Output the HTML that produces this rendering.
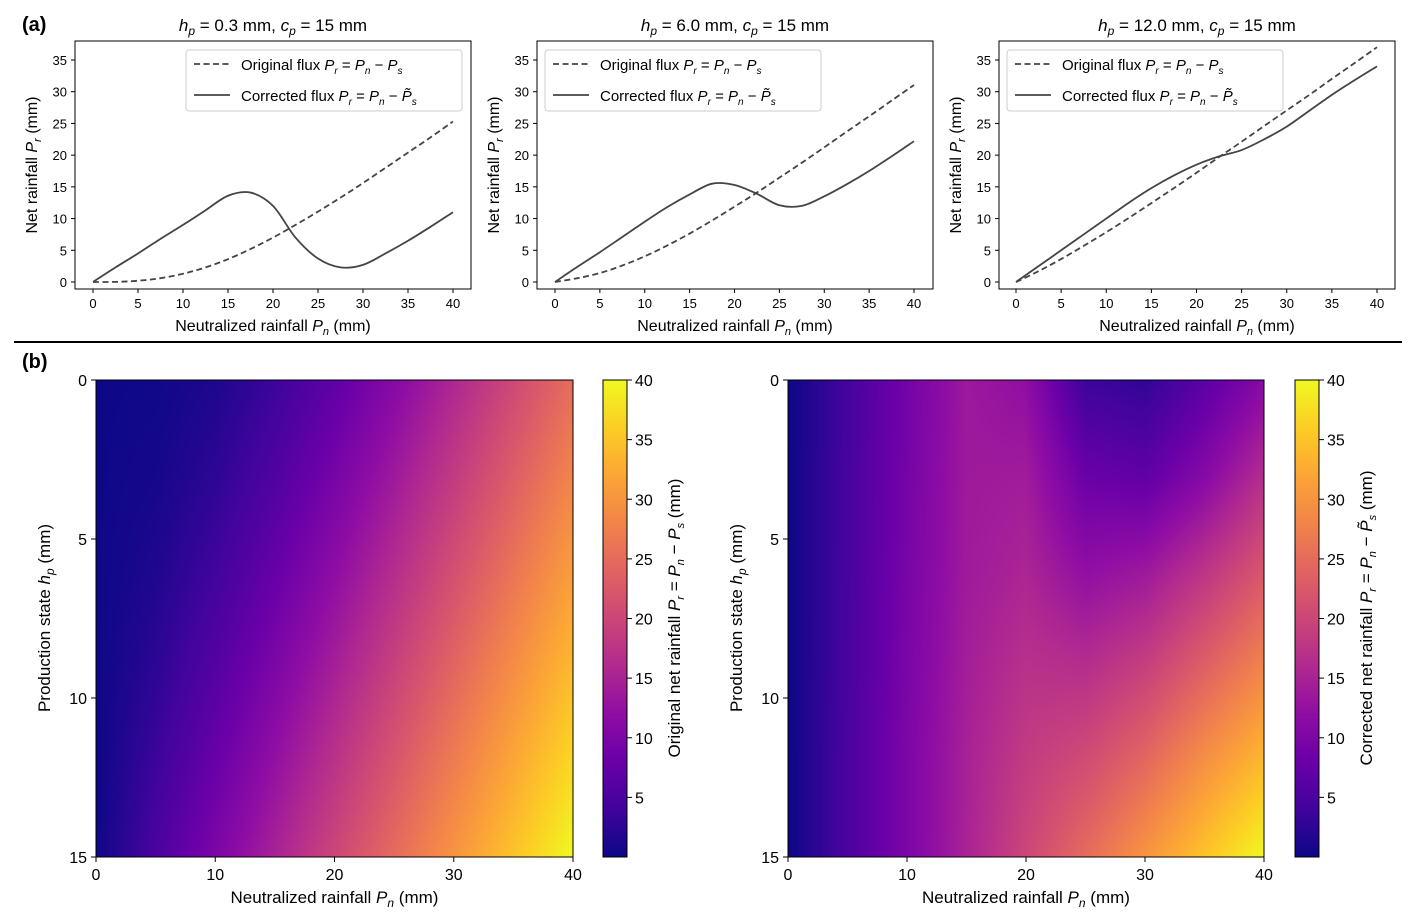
<!DOCTYPE html>
<html><head><meta charset="utf-8">
<style>
body{margin:0;background:#fff;width:1417px;height:920px;overflow:hidden;font-family:"Liberation Sans","DejaVu Sans",sans-serif;}
svg{position:absolute;left:0;top:0}
canvas{position:absolute}
</style></head>
<body>
<canvas id="hm1" width="477" height="477" style="left:96px;top:380px"></canvas>
<canvas id="hm2" width="476" height="477" style="left:788px;top:380px"></canvas>
<canvas id="cb1" width="24" height="477" style="left:603px;top:380px"></canvas>
<canvas id="cb2" width="24" height="477" style="left:1295px;top:380px"></canvas>
<svg id="s" width="1417" height="920" xmlns="http://www.w3.org/2000/svg" font-family="Liberation Sans, DejaVu Sans, sans-serif"></svg>
<script>
// ---------- data ----------
const pnGrid = [0,5,10,15,20,25,30,35,40];
const hpGrid = [0,3,6,9,12,15];
const originalGrid = [
 [0,0.18,1.26,3.58,6.95,11.03,15.54,20.28,25.14],
 [0,0.65,2.48,5.48,9.33,13.70,18.36,23.19,28.10],
 [0,1.41,4.05,7.64,11.87,16.45,21.23,26.12,31.06],
 [0,2.41,5.85,9.98,14.51,19.27,24.14,29.07,34.04],
 [0,3.62,7.85,12.44,17.23,22.12,27.06,32.03,37.02],
 [0,5,10,15,20,25,30,35,40]
];
const correctedGrid = [
 [0,4.5,9,13.6,12,3.7,2.7,6.5,11],
 [0,4.6,9.2,13.7,14,8,7,11,16.5],
 [0,4.7,9.5,13.8,15.3,12.1,13.5,17.5,22.2],
 [0,4.8,9.7,14.3,17,16.5,19,23.5,28],
 [0,5,10,14.8,18.5,20.8,24.5,29.5,34],
 [0,5,10,15,20,25,30,35,40]
];
const pnLine = [0,2.5,5,7.5,10,12.5,15,17.5,20,22.5,25,27.5,30,32.5,35,37.5,40];
const orig03 = [0,0.02,0.2,0.6,1.3,2.3,3.6,5.2,7.0,9.0,11.1,13.3,15.6,18.0,20.4,22.8,25.3];
const corr03 = [0,2.3,4.5,6.8,9,11.3,13.6,14.1,12,7,3.7,2.3,2.7,4.5,6.5,8.7,11];
const orig6 = [0,0.6,1.41,2.6,4.05,5.75,7.64,9.7,11.87,14.1,16.45,18.8,21.23,23.7,26.12,28.6,31.06];
const corr6 = [0,2.4,4.7,7.1,9.5,11.8,13.8,15.5,15.3,13.9,12.1,12.0,13.5,15.4,17.5,19.8,22.2];
const orig12 = [0,1.7,3.62,5.7,7.85,10.1,12.44,14.8,17.23,19.7,22.12,24.6,27.06,29.5,32.03,34.5,37.02];
const corr12 = [0,2.5,5,7.5,10,12.5,14.8,16.8,18.5,19.8,20.8,22.5,24.5,27,29.5,31.8,34];
const xTicks = [0,5,10,15,20,25,30,35,40];
const yTicks = [0,5,10,15,20,25,30,35];
const hmXTicks = [0,10,20,30,40];
const hmYTicks = [0,5,10,15];
const cbTicks = [5,10,15,20,25,30,35,40];
const titles = ["0.3","6.0","12.0"];

const plasma=["#0d0887","#41049d","#6a00a8","#8f0da4","#b12a90","#cc4778","#e16462","#f2844b","#fca636","#fcce25","#f0f921"].map(h=>[parseInt(h.substr(1,2),16),parseInt(h.substr(3,2),16),parseInt(h.substr(5,2),16)]);
function cmap(v){let t=Math.max(0,Math.min(1,v/40))*10;let i=Math.min(9,Math.floor(t));let f=t-i;let a=plasma[i],b=plasma[i+1];return [a[0]+(b[0]-a[0])*f,a[1]+(b[1]-a[1])*f,a[2]+(b[2]-a[2])*f];}
function interp(grid,pn,hp){
  let hi=Math.min(hpGrid.length-2,Math.max(0,hpGrid.findIndex((h,k)=>k<hpGrid.length-1&&hp<=hpGrid[k+1])));
  let pi=Math.min(pnGrid.length-2,Math.max(0,pnGrid.findIndex((p,k)=>k<pnGrid.length-1&&pn<=pnGrid[k+1])));
  let fy=(hp-hpGrid[hi])/(hpGrid[hi+1]-hpGrid[hi]),fx=(pn-pnGrid[pi])/(pnGrid[pi+1]-pnGrid[pi]);
  let a=grid[hi][pi],b=grid[hi][pi+1],c=grid[hi+1][pi],d=grid[hi+1][pi+1];
  return a*(1-fx)*(1-fy)+b*fx*(1-fy)+c*(1-fx)*fy+d*fx*fy;
}
function drawHM(id,grid){const cv=document.getElementById(id),ctx=cv.getContext('2d');const W=cv.width,H=cv.height;const im=ctx.createImageData(W,H);
 for(let y=0;y<H;y++)for(let x=0;x<W;x++){const c=cmap(interp(grid,(x+0.5)/W*40,(y+0.5)/H*15));const o=(y*W+x)*4;im.data[o]=c[0];im.data[o+1]=c[1];im.data[o+2]=c[2];im.data[o+3]=255;}
 ctx.putImageData(im,0,0);}
drawHM('hm1',originalGrid);drawHM('hm2',correctedGrid);
function drawCB(id){const cv=document.getElementById(id),ctx=cv.getContext('2d');for(let y=0;y<cv.height;y++){const c=cmap(40*(1-y/cv.height));ctx.fillStyle=`rgb(${c[0]|0},${c[1]|0},${c[2]|0})`;ctx.fillRect(0,y,cv.width,1);}}
drawCB('cb1');drawCB('cb2');

const S=document.getElementById('s');const NS="http://www.w3.org/2000/svg";
function el(tag,attrs,txt){const e=document.createElementNS(NS,tag);for(const k in attrs)e.setAttribute(k,attrs[k]);if(txt!==undefined)e.innerHTML=txt;S.appendChild(e);return e;}
function smooth(pts){let d=`M${pts[0][0]},${pts[0][1]}`;for(let i=0;i<pts.length-1;i++){const p0=pts[Math.max(0,i-1)],p1=pts[i],p2=pts[i+1],p3=pts[Math.min(pts.length-1,i+2)];d+=` C${p1[0]+(p2[0]-p0[0])/6},${p1[1]+(p2[1]-p0[1])/6} ${p2[0]-(p3[0]-p1[0])/6},${p2[1]-(p3[1]-p1[1])/6} ${p2[0]},${p2[1]}`;}return d;}

let t=el('text',{x:22,y:31,'font-size':20,'font-weight':'bold'},'(a)');

t=el('text',{x:22,y:368,'font-size':20,'font-weight':'bold'},'(b)');

t=el('line',{x1:14,y1:342,x2:1402,y2:342,stroke:'#000','stroke-width':2});


const panels=[{bx:75,x0:93,sx:9,orig:orig03,corr:corr03,lx:186},{bx:537,x0:555,sx:8.975,orig:orig6,corr:corr6,lx:545},{bx:999,x0:1016,sx:9.025,orig:orig12,corr:corr12,lx:1007}];
panels.forEach((p,k)=>{
  const X=v=>p.x0+v*p.sx, Y=v=>282-v*6.343;
  let r=el('rect',{x:p.bx,y:41,width:396,height:248,fill:'none',stroke:'#000','stroke-width':1});
  
  xTicks.forEach(v=>{el('line',{x1:X(v),y1:289,x2:X(v),y2:293,stroke:'#000'});
    let tt=el('text',{x:X(v),y:308,'font-size':13,'text-anchor':'middle'},v);});
  yTicks.forEach(v=>{el('line',{x1:p.bx,y1:Y(v),x2:p.bx-4,y2:Y(v),stroke:'#000'});
    let tt=el('text',{x:p.bx-8,y:Y(v)+5,'font-size':13,'text-anchor':'end'},v);});
  let tl=el('text',{x:p.bx+198,y:31,'font-size':17,'text-anchor':'middle'},`<tspan font-style="italic">h</tspan><tspan font-size="12" dy="4" font-style="italic">p</tspan><tspan dy="-4"> = ${titles[k]} mm, </tspan><tspan font-style="italic">c</tspan><tspan font-size="12" dy="4" font-style="italic">p</tspan><tspan dy="-4"> = 15 mm</tspan>`);
  
  let xl=el('text',{x:p.bx+198,y:331,'font-size':16,'text-anchor':'middle'},'Neutralized rainfall <tspan font-style="italic">P</tspan><tspan font-size="11" dy="4" font-style="italic">n</tspan><tspan dy="-4"> (mm)</tspan>');
  
  let yl=el('text',{x:0,y:0,'font-size':16,'text-anchor':'middle',transform:`translate(${p.bx-38},165) rotate(-90)`},'Net rainfall <tspan font-style="italic">P</tspan><tspan font-size="11" dy="4" font-style="italic">r</tspan><tspan dy="-4"> (mm)</tspan>');
  
  let d1=el('path',{d:smooth(pnLine.map((v,i)=>[X(v),Y(p.orig[i])])),fill:'none',stroke:'#444','stroke-width':1.8,'stroke-dasharray':'6,3.5'});
  
  let d2=el('path',{d:smooth(pnLine.map((v,i)=>[X(v),Y(p.corr[i])])),fill:'none',stroke:'#444','stroke-width':1.8});
  
  let lg=el('rect',{x:p.lx,y:50,width:276,height:61,rx:3,fill:'#fff','fill-opacity':0.85,stroke:'#ccc'});
  
  el('line',{x1:p.lx+8,y1:64,x2:p.lx+44,y2:64,stroke:'#444','stroke-width':1.8,'stroke-dasharray':'6,3.5'});
  el('line',{x1:p.lx+8,y1:95,x2:p.lx+44,y2:95,stroke:'#444','stroke-width':1.8});
  let l1=el('text',{x:p.lx+55,y:70,'font-size':15},'Original flux <tspan font-style="italic">P</tspan><tspan font-size="10" dy="4" font-style="italic">r</tspan><tspan dy="-4"> = </tspan><tspan font-style="italic">P</tspan><tspan font-size="10" dy="4" font-style="italic">n</tspan><tspan dy="-4"> − </tspan><tspan font-style="italic">P</tspan><tspan font-size="10" dy="4" font-style="italic">s</tspan>');
  
  let l2=el('text',{x:p.lx+55,y:101,'font-size':15},'Corrected flux <tspan font-style="italic">P</tspan><tspan font-size="10" dy="4" font-style="italic">r</tspan><tspan dy="-4"> = </tspan><tspan font-style="italic">P</tspan><tspan font-size="10" dy="4" font-style="italic">n</tspan><tspan dy="-4"> − </tspan><tspan font-style="italic">P̃</tspan><tspan font-size="10" dy="4" font-style="italic">s</tspan>');
  
});

const hms=[{x:96,w:477,cb:603,yl:44,cl:675,label:'Original net rainfall <tspan font-style="italic">P</tspan><tspan font-size="11" dy="4" font-style="italic">r</tspan><tspan dy="-4"> = </tspan><tspan font-style="italic">P</tspan><tspan font-size="11" dy="4" font-style="italic">n</tspan><tspan dy="-4"> − </tspan><tspan font-style="italic">P</tspan><tspan font-size="11" dy="4" font-style="italic">s</tspan><tspan dy="-4"> (mm)</tspan>'},
 {x:788,w:476,cb:1295,yl:736,cl:1367,label:'Corrected net rainfall <tspan font-style="italic">P</tspan><tspan font-size="11" dy="4" font-style="italic">r</tspan><tspan dy="-4"> = </tspan><tspan font-style="italic">P</tspan><tspan font-size="11" dy="4" font-style="italic">n</tspan><tspan dy="-4"> − </tspan><tspan font-style="italic">P̃</tspan><tspan font-size="11" dy="4" font-style="italic">s</tspan><tspan dy="-4"> (mm)</tspan>'}];
hms.forEach(h=>{
  const X=v=>h.x+v/40*h.w, Y=v=>380+v/15*477, C=v=>857-v/40*477;
  el('rect',{x:h.x,y:380,width:h.w,height:477,fill:'none',stroke:'#000'});
  el('rect',{x:h.cb,y:380,width:24,height:477,fill:'none',stroke:'#000'});
  hmXTicks.forEach(v=>{el('line',{x1:X(v),y1:857,x2:X(v),y2:862,stroke:'#000'});
    let tt=el('text',{x:X(v),y:880,'font-size':16,'text-anchor':'middle'},v);});
  hmYTicks.forEach(v=>{el('line',{x1:h.x,y1:Y(v),x2:h.x-5,y2:Y(v),stroke:'#000'});
    let tt=el('text',{x:h.x-9,y:Y(v)+6,'font-size':16,'text-anchor':'end'},v);});
  cbTicks.forEach(v=>{el('line',{x1:h.cb+24,y1:C(v),x2:h.cb+29,y2:C(v),stroke:'#000'});
    let tt=el('text',{x:h.cb+32,y:C(v)+6,'font-size':16},v);});
  let xl=el('text',{x:h.x+h.w/2,y:903,'font-size':17,'text-anchor':'middle'},'Neutralized rainfall <tspan font-style="italic">P</tspan><tspan font-size="12" dy="4" font-style="italic">n</tspan><tspan dy="-4"> (mm)</tspan>');
  
  let yl=el('text',{x:0,y:0,'font-size':17,'text-anchor':'middle',transform:`translate(${h.yl+6},618) rotate(-90)`},'Production state <tspan font-style="italic">h</tspan><tspan font-size="12" dy="4" font-style="italic">p</tspan><tspan dy="-4"> (mm)</tspan>');
  
  let cl=el('text',{x:0,y:0,'font-size':17,'text-anchor':'middle',transform:`translate(${h.cl+5},618) rotate(-90)`},h.label);
  
});
</script>
</body></html>
